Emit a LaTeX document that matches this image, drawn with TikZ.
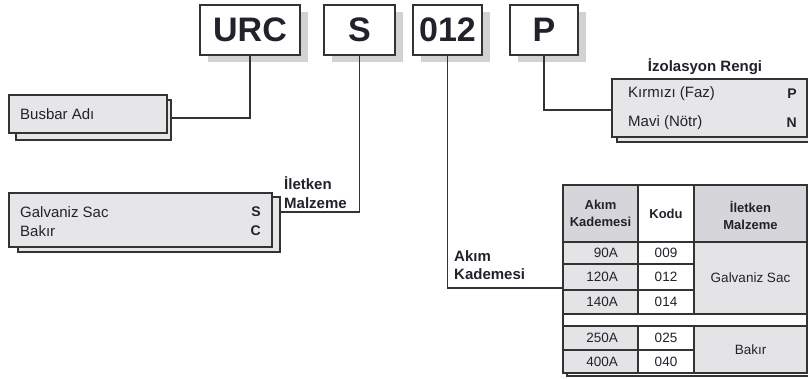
\documentclass[tikz,border=0pt]{standalone}
\usepackage{fontspec}
\setmainfont{Liberation Sans}
\usetikzlibrary{calc}
\definecolor{ink}{HTML}{22222C}
\definecolor{edge}{HTML}{333333}
\definecolor{boxfill}{HTML}{E6E6E9}
\definecolor{shad}{HTML}{D2D2D4}
\definecolor{headfill}{HTML}{D6D6DA}
\definecolor{cellfill}{HTML}{E4E4E7}
\begin{document}
\begin{tikzpicture}[x=1pt,y=-1pt,
  codebox/.style={draw=edge,line width=1.4pt,fill=white,inner sep=0pt,minimum height=50pt,text=ink,font=\fontsize{34}{40}\selectfont\bfseries},
  infobox/.style={draw=edge,line width=1.4pt,fill=boxfill,inner sep=0pt},
  link/.style={draw=edge,line width=1.4pt},
  txt/.style={text=ink,inner sep=0pt,font=\fontsize{15}{18}\selectfont},
  btxt/.style={text=ink,inner sep=0pt,font=\fontsize{14}{18}\selectfont\bfseries},
  lbl/.style={text=ink,inner sep=0pt,align=left,font=\fontsize{15}{18.5}\selectfont\bfseries},
  hdr/.style={text=ink,inner sep=0pt,align=center,font=\fontsize{13}{17}\selectfont\bfseries},
  dat/.style={text=ink,inner sep=0pt,font=\fontsize{13.5}{17}\selectfont}]
\useasboundingbox (0,0) rectangle (808,378);

% shadows of the code boxes
\fill[shad] (208,12) rectangle (308,62);
\fill[shad] (332,12) rectangle (403,62);
\fill[shad] (421,12) rectangle (490,62);
\fill[shad] (518,12) rectangle (586,62);

% code boxes
\node[codebox,minimum width=100pt] (urc) at (250,30) {URC};
\node[codebox,minimum width=71pt] (s) at (359.5,30) {S};
\node[codebox,minimum width=69pt] (c012) at (447.5,30) {012};
\node[codebox,minimum width=68pt] (p) at (544,30) {P};

% Busbar Adi box (stacked)
\node[infobox,minimum width=155pt,minimum height=40pt] (busbarback) at (93.5,120) {};
\node[infobox,minimum width=158pt,minimum height=38pt] (busbar) at (88,114) {};
\node[txt,anchor=west] (tbusbar) at (20,114) {Busbar Adı};

% Galvaniz box (stacked)
\node[infobox,minimum width=262pt,minimum height=55pt] (galvback) at (149,224.5) {};
\node[infobox,minimum width=263pt,minimum height=54pt] (galv) at (140.5,220) {};
\node[txt,anchor=west] (tgalv) at (20,212) {Galvaniz Sac};
\node[txt,anchor=west] (tbakir) at (20,231) {Bakır};
\node[btxt,anchor=east] (ts) at (261,212) {S};
\node[btxt,anchor=east] (tc) at (261,231) {C};
\node[lbl,anchor=west] (lilet) at (284,192.5) {İletken\\Malzeme};

% Izolasyon box (stacked)
\node[infobox,minimum width=196pt,minimum height=59pt] (izoback) at (715,112.5) {};
\node[infobox,minimum width=195pt,minimum height=58pt] (izo) at (709.5,108) {};
\node[lbl,anchor=center] (lizo) at (705,67) {İzolasyon Rengi};
\node[txt,anchor=west] (tkirmizi) at (628,94) {Kırmızı (Faz)};
\node[txt,anchor=west] (tmavi) at (628,123) {Mavi (Nötr)};
\node[btxt,anchor=east] (tp) at (797,94) {P};
\node[btxt,anchor=east] (tn) at (797,123) {N};

% Akim label
\node[lbl,anchor=west] (lakim) at (454,265) {Akım\\Kademesi};

% table back frame
\node[draw=edge,line width=1.2pt,fill=white,inner sep=0pt,minimum width=244pt,minimum height=187pt] (tabback) at (689,282.5) {};
% table cells
\fill[white] (563,185) rectangle (807,373);
\fill[headfill] (563,185) rectangle (638,242);
\fill[headfill] (694,185) rectangle (807,242);
\fill[cellfill] (563,242) rectangle (638,314);
\fill[cellfill] (694,242) rectangle (807,314);
\fill[cellfill] (563,326) rectangle (638,373);
\fill[cellfill] (694,326) rectangle (807,373);
\node[draw=edge,line width=1.4pt,inner sep=0pt,minimum width=244pt,minimum height=188pt] (tab) at (685,279) {};
\begin{scope}[edge,line width=1.4pt]
\draw (638,185) -- (638,314) (694,185) -- (694,314);
\draw (638,326) -- (638,373) (694,326) -- (694,373);
\draw (563,242) -- (807,242);
\draw (563,264) -- (694,264) (563,290) -- (694,290);
\draw (563,314) -- (807,314) (563,326) -- (807,326);
\draw (563,350) -- (694,350);
\end{scope}
\node[hdr] (h1) at (600.5,213.5) {Akım\\Kademesi};
\node[hdr] (h2) at (666,214) {Kodu};
\node[hdr] (h3) at (750.5,215) {İletken\\Malzeme};
\node[dat,anchor=east] (a1) at (618,253) {90A};
\node[dat,anchor=east] (a2) at (618,277) {120A};
\node[dat,anchor=east] (a3) at (618,302) {140A};
\node[dat,anchor=east] (a4) at (618,338) {250A};
\node[dat,anchor=east] (a5) at (618,361.5) {400A};
\node[dat] (k1) at (666,253) {009};
\node[dat] (k2) at (666,277) {012};
\node[dat] (k3) at (666,302) {014};
\node[dat] (k4) at (666,338) {025};
\node[dat] (k5) at (666,361.5) {040};
\node[dat] (m1) at (750.5,278) {Galvaniz Sac};
\node[dat] (m2) at (750.5,349.5) {Bakır};

% connectors
\coordinate (jurc) at (171,118);
\coordinate (js) at (280,212);
\coordinate (j012) at (563,288);
\coordinate (jp) at (612,110);
\draw[link] (urc.south) |- (jurc);
\draw[link] (s.south) |- (js);
\draw[link] (c012.south) |- (j012);
\draw[link] (p.south) |- (jp);
\end{tikzpicture}
\end{document}
